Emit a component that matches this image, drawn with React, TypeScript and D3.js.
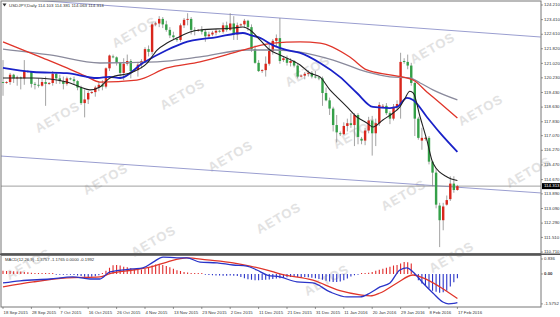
import React from 'react';
import * as d3 from 'd3';

// ---------- DATA ----------
const dateLabels = ['18 Sep 2015','28 Sep 2015','7 Oct 2015','16 Oct 2015','26 Oct 2015','4 Nov 2015','13 Nov 2015','23 Nov 2015','2 Dec 2015','11 Dec 2015','21 Dec 2015','31 Dec 2015','11 Jan 2016','20 Jan 2016','29 Jan 2016','8 Feb 2016','17 Feb 2016'];
const dateLabelBars = [0,8,16,24,32,40,48,56,64,72,80,88,96,104,112,120,128];

const opens = [120.00,119.95,120.00,120.40,120.20,120.25,120.20,120.60,120.55,119.90,119.85,119.80,120.00,119.90,119.95,120.45,120.20,120.05,119.90,120.20,120.15,120.05,119.70,118.85,119.05,119.40,119.45,119.70,119.85,119.75,120.75,121.40,121.35,121.05,120.50,121.00,121.15,120.60,120.65,120.95,121.15,121.80,121.65,123.15,123.20,123.45,123.15,122.85,122.55,122.35,122.30,123.10,123.40,123.45,122.85,122.80,122.85,122.75,122.50,122.60,122.70,122.80,122.75,123.10,122.85,123.20,122.60,123.10,123.15,123.35,123.00,121.80,121.05,120.60,120.65,121.00,121.70,122.25,122.40,121.20,121.30,121.05,121.15,120.90,120.30,120.35,120.45,120.50,120.30,120.25,120.20,119.40,119.00,118.55,117.65,117.20,117.15,117.60,117.75,117.65,118.20,116.90,116.80,117.35,117.90,117.20,117.75,118.70,118.70,118.30,118.00,118.65,118.80,121.15,121.10,120.90,119.95,118.00,116.80,116.90,116.95,115.65,115.05,113.25,112.45,113.30,113.60,114.45,114.103];
const highs = [121.20,120.05,120.50,120.45,120.35,120.30,121.20,120.65,120.60,120.00,120.20,120.20,120.30,120.00,120.60,120.55,120.40,120.30,120.30,120.25,120.30,120.10,119.80,119.60,119.50,119.50,119.80,120.00,120.10,120.80,121.50,121.50,121.40,121.10,121.30,121.50,121.25,120.70,121.10,121.25,121.90,122.00,123.25,123.30,123.60,123.55,123.35,123.00,122.75,122.45,123.20,123.50,123.76,123.55,123.00,122.90,123.05,122.85,122.75,122.80,122.90,122.85,123.25,123.30,123.76,123.60,123.25,123.20,123.45,123.40,123.15,122.00,121.20,120.70,121.40,122.10,122.35,122.60,123.50,121.40,121.45,121.30,121.20,121.00,120.40,120.55,120.65,120.60,120.60,120.30,120.30,119.70,119.15,118.65,118.20,117.30,117.80,118.00,118.30,118.30,118.30,117.00,117.50,118.10,118.15,118.00,118.90,118.80,118.85,118.40,118.80,119.00,121.60,121.30,121.50,121.05,120.00,118.10,117.50,117.00,117.05,115.70,115.30,113.40,113.40,113.80,114.85,114.85,114.381];
const lows = [119.25,119.90,119.85,119.95,119.80,119.60,119.85,120.50,119.70,119.60,119.70,119.75,118.70,119.85,119.80,119.90,119.90,119.60,119.80,120.10,119.90,119.55,118.75,118.07,118.80,119.35,119.20,119.50,119.55,119.65,120.60,121.30,120.90,120.30,120.10,120.90,120.20,120.55,120.30,120.75,121.05,121.40,121.50,123.05,123.00,122.95,122.75,122.40,122.30,122.20,122.20,122.95,123.10,122.60,122.55,122.75,122.60,122.20,122.35,122.50,122.55,122.70,122.65,122.75,122.80,122.30,122.30,123.00,122.95,122.80,121.65,121.00,120.55,120.50,120.30,120.90,121.50,121.95,121.00,121.10,120.90,120.85,120.80,120.20,120.25,120.15,120.30,120.20,120.20,120.10,118.70,118.95,118.20,117.30,116.70,117.05,117.10,117.30,117.50,116.50,116.60,116.60,116.55,117.20,115.98,116.50,117.60,118.60,118.20,117.70,117.90,118.50,118.00,121.00,120.70,119.80,117.05,116.85,116.30,116.80,115.50,114.30,113.10,110.98,111.90,113.25,113.50,113.95,114.063];
const closes = [119.95,120.00,120.40,120.20,120.25,120.20,120.60,120.55,119.90,119.85,119.80,120.00,119.90,119.95,120.45,120.20,120.05,119.90,120.20,120.15,120.05,119.70,118.85,119.05,119.40,119.45,119.70,119.85,119.75,120.75,121.45,121.35,121.05,120.50,121.00,121.15,120.60,120.65,120.95,121.15,121.80,121.65,123.15,123.20,123.45,123.15,122.85,122.55,122.45,122.30,123.10,123.40,123.45,122.85,122.80,122.85,122.75,122.50,122.60,122.70,122.80,122.75,123.10,122.85,123.20,122.60,123.10,123.15,123.35,123.00,121.80,121.05,120.60,120.65,121.00,121.70,122.25,122.40,121.15,121.30,121.05,121.15,120.90,120.30,120.35,120.45,120.50,120.30,120.25,120.20,119.40,119.00,118.55,117.65,117.25,117.15,117.60,117.75,117.65,118.20,117.00,116.80,117.35,117.90,117.20,117.75,118.75,118.70,118.30,118.00,118.65,118.80,121.10,121.10,120.90,119.95,118.00,116.95,116.95,116.95,115.65,115.05,113.30,112.45,113.20,113.55,114.45,114.10,114.313];

// moving averages, sampled [bar, price]
const maBlack = [[0,120.22],[8.5,120.22],[18,120.0],[21.7,119.73],[24.5,119.57],[27.3,119.73],[30.1,120.22],[36.6,120.55],[40.6,121.04],[43.4,121.75],[46.2,122.13],[49,122.41],[52.7,122.73],[55.5,122.84],[64.8,122.95],[67.6,123.01],[69.6,122.84],[72.4,122.3],[75.2,121.75],[78,121.48],[83.7,120.93],[86.5,120.49],[89.3,120.28],[92.1,119.57],[94.1,119.18],[96.9,118.64],[99.7,118.09],[102.5,117.76],[104.2,117.54],[107,117.93],[109.9,118.31],[111.8,118.64],[113.2,119.1],[114.6,119.5],[115.6,119.4],[117.5,118.09],[119.4,116.83],[121.1,115.58],[125.1,114.81],[128,114.62]];
const maBlue = [[0,120.77],[8.5,120.55],[18,120.49],[26.5,120.22],[30,120.28],[33,120.22],[39.4,121.04],[46.2,121.75],[50.7,122.13],[60.3,122.46],[67.6,122.68],[69.6,122.57],[72.4,122.41],[76,122.02],[80,121.75],[83.7,121.59],[89.3,121.04],[94.9,120.28],[99.7,119.4],[104.2,118.64],[109,118.58],[111,118.64],[113.8,119.13],[115.5,119.02],[119.4,118.09],[123.1,117.22],[128,116.18]];
const maRed = [[0,122.19],[11.3,121.31],[18,120.77],[23.7,120.28],[27.3,120.0],[37.7,120.11],[46.2,120.77],[55.5,121.1],[64.8,121.59],[69.6,121.86],[76,122.13],[83.7,122.19],[89.3,122.13],[97.7,121.37],[102.5,120.66],[109,120.39],[115.5,120.11],[119.4,119.46],[123.1,118.85],[128,118.03]];
const maGray = [[0,121.8],[13.2,121.48],[27.3,121.04],[43.4,121.1],[55.5,121.37],[68.7,121.75],[76.6,121.75],[83.7,121.64],[93,121.2],[102.5,120.55],[109,120.28],[114.6,120.22],[117.5,119.95],[121.1,119.57],[128,119.02]];

// trend channel endpoints [bar, price]
const channelUpper = [[-0.85,124.61],[151.5,122.46]];
const channelLower = [[-0.85,115.96],[151.5,113.94]];

const priceTicks = [124.21,123.41,122.61,121.82,121.02,120.23,119.43,118.63,117.83,117.07,116.27,115.47,114.67,113.89,113.09,112.29,111.51,110.71];
const lastPrice = 114.313;

// MACD
const macdMain = [[0,-0.43],[4.8,-0.33],[13.2,-0.24],[19.7,-0.14],[24.5,-0.24],[27.3,-0.24],[30.1,0.1],[36.6,0.24],[39.4,0.29],[42.3,0.57],[45.1,0.81],[49,0.77],[51.8,0.77],[55.5,0.57],[60.3,0.53],[64.8,0.43],[68.7,0.38],[71.5,0.19],[74.4,-0.05],[78,-0.14],[82.8,-0.38],[87.3,-0.43],[92.1,-0.86],[96.9,-1.1],[100.6,-1.1],[103.4,-0.91],[106.2,-0.62],[109,-0.43],[111.8,0.19],[113.8,0.29],[115.5,0.1],[118.3,-0.43],[121.1,-0.91],[123.9,-1.34],[125.5,-1.43],[127,-1.41],[128,-1.3757]];
const macdSignal = [[0,-0.62],[8.5,-0.38],[18,-0.19],[27.3,-0.14],[30.1,0.02],[36.6,0.19],[41.4,0.33],[46.2,0.57],[51.8,0.77],[57.5,0.67],[64.8,0.53],[69.6,0.38],[74.4,0.19],[78,0.0],[87.3,-0.3],[94.9,-0.8],[100.6,-1.0],[103.5,-1.05],[106.2,-0.91],[111,-0.43],[115.5,-0.05],[118.3,-0.19],[123.1,-0.62],[128,-1.1765]];
const macdHist = [0.15,0.14,0.14,0.13,0.12,0.12,0.1,0.08,0.06,
  0.04,0.03,0.02,0.02,0.01,0.0,-0.01,-0.02,-0.02,-0.03,-0.04,-0.05,
  -0.07,-0.1,-0.13,-0.14,-0.13,-0.11,-0.06,
  0.05,0.15,0.3,0.42,0.43,0.4,0.35,0.32,0.28,0.25,
  0.22,0.22,0.25,
  0.3,0.4,0.45,0.45,0.43,0.38,0.32,0.25,
  0.18,0.14,0.1,0.07,0.05,0.03,0.02,0.01,
  -0.03,-0.05,-0.06,-0.07,-0.07,-0.08,-0.08,-0.07,-0.08,
  -0.1,-0.15,-0.2,-0.25,-0.28,-0.3,-0.3,-0.29,-0.28,-0.26,-0.24,-0.22,-0.2,-0.18,
  -0.16,-0.15,-0.14,-0.14,-0.14,-0.15,-0.16,-0.18,-0.2,
  -0.24,-0.28,-0.32,-0.36,-0.38,-0.38,-0.36,-0.3,-0.22,
  -0.12,-0.06,-0.03,0.01,0.03,
  0.06,0.1,0.15,0.2,0.25,0.3,0.35,0.4,0.43,
  0.5,0.57,0.56,0.5,
  -0.1,-0.3,-0.45,-0.55,-0.7,-0.8,-0.85,-0.9,-0.88,-0.8,-0.6,-0.4,-0.2];
const macdTicks = [0.836, 0.0, -1.5752];
const macdTickLabels = ['0.836', '0.00', '-1.5752'];

const headerText = 'USDJPY,Daily  114.103 114.381 114.063 114.313';
const macdText = 'MACD(12,26,9) -1.3757 -1.1765 0.0000 -0.1992';

// ---------- COMPONENT ----------
const RED = '#d9261c';
const GREEN = '#34a048';
const FONT = 'Liberation Sans, Arial, sans-serif';

export default function App() {
  const plotRight = 541;
  const x = d3.scaleLinear().domain([0, 128]).range([3, 3 + 128 * 3.55]);
  const y = d3.scaleLinear().domain([110.71, 124.21]).range([252.05, 5]);
  const ym = d3.scaleLinear().domain([-1.5752, 0.836]).range([306.9, 256.5]);

  const lineP = d3.line<number[]>().x(d => x(d[0])).y(d => y(d[1])).curve(d3.curveMonotoneX);
  const lineM = d3.line<number[]>().x(d => x(d[0])).y(d => ym(d[1])).curve(d3.curveMonotoneX);
  const straight = d3.line<number[]>().x(d => x(d[0])).y(d => y(d[1]));

  // watermark lattice (only fully visible stamps)
  const marks: [number, number][] = [];
  for (let a = -6; a <= 8; a++) {
    for (let b = -5; b <= 8; b++) {
      const cx = 135 + a * 48 + b * 125;
      const cy = 33 + a * 62 - b * 23;
      if (cx - 24 > 0 && cx + 24 < 560 && cy - 17 > 0 && cy + 17 < 317) marks.push([cx, cy]);
    }
  }

  return (
    <svg width={560} height={317} style={{ position: 'absolute', left: 0, top: 0, background: '#fff' }} fontFamily={FONT}>
      <defs>
        <clipPath id="mainClip"><rect x={1} y={1} width={plotRight - 1} height={252.5} /></clipPath>
        <clipPath id="macdClip"><rect x={1} y={255.5} width={plotRight - 1} height={51.5} /></clipPath>
      </defs>
      <rect x={0} y={0} width={560} height={317} fill="#fff" />
      {/* watermark */}
      <g fill="#e2e2e2" fontWeight="bold" fontSize={13} textAnchor="middle">
        {marks.map(([cx, cy], i) => (
          <text key={i} x={cx} y={cy} transform={`rotate(-30 ${cx} ${cy})`} dominantBaseline="middle" letterSpacing={1}>AETOS</text>
        ))}
      </g>

      {/* main panel */}
      <g clipPath="url(#mainClip)">
        <path d={straight(channelUpper) || ''} stroke="#9a9ed0" strokeWidth={1} fill="none" />
        <path d={straight(channelLower) || ''} stroke="#9a9ed0" strokeWidth={1} fill="none" />
        <line x1={1} x2={plotRight} y1={y(lastPrice)} y2={y(lastPrice)} stroke="#888" strokeWidth={0.8} />
        {opens.map((o, i) => {
          const c = closes[i];
          const up = c >= o;
          const yo = y(o), yc = y(c);
          const top = Math.min(yo, yc);
          const h = Math.max(0.8, Math.abs(yo - yc));
          return (
            <g key={i}>
              <line x1={x(i)} x2={x(i)} y1={y(highs[i])} y2={y(lows[i])} stroke="#8c8c8c" strokeWidth={0.8} />
              <rect x={x(i) - 1.2} y={top} width={2.4} height={h} fill={up ? RED : GREEN} />
            </g>
          );
        })}
        <path d={lineP(maGray) || ''} stroke="#8a8a9c" strokeWidth={1.3} fill="none" />
        <path d={lineP(maRed) || ''} stroke="#e0352a" strokeWidth={1.3} fill="none" />
        <path d={lineP(maBlue) || ''} stroke="#1a22c8" strokeWidth={1.8} fill="none" />
        <path d={lineP(maBlack) || ''} stroke="#222" strokeWidth={1.1} fill="none" />
      </g>
      {/* header */}
      <path d="M2.5,3.6 L6.5,3.6 L4.5,6.6 Z" fill="#333" />
      <text x={9} y={6.8} fontSize={4.4} fill="#333">{headerText}</text>

      {/* MACD panel */}
      <g clipPath="url(#macdClip)">
        {macdHist.map((v, i) => {
          const y0 = ym(0);
          let y1 = ym(v);
          if (Math.abs(y1 - y0) < 0.9) y1 = y0 - (v >= 0 ? 0.9 : -0.9);
          return <line key={i} x1={x(i)} x2={x(i)} y1={y0} y2={y1} stroke={v >= 0 ? '#e02a2a' : '#2a34c8'} strokeWidth={1.1} />;
        })}
        <path d={lineM(macdSignal) || ''} stroke="#e0352a" strokeWidth={1.3} fill="none" />
        <path d={lineM(macdMain) || ''} stroke="#2a34c8" strokeWidth={1.3} fill="none" />
      </g>
      <text x={5} y={260.5} fontSize={4.2} fill="#333">{macdText}</text>

      {/* frames */}
      <rect x={1} y={1} width={plotRight - 1} height={252.5} fill="none" stroke="#777" strokeWidth={1} />
      <line x1={0} x2={560} y1={254.2} y2={254.2} stroke="#555" strokeWidth={1.6} />
      <rect x={1} y={255.5} width={plotRight - 1} height={51.5} fill="none" stroke="#777" strokeWidth={1} />

      {/* price axis */}
      <g fontSize={4.4} fill="#333">
        {priceTicks.map((p, i) => (
          <g key={i}>
            <line x1={plotRight} x2={plotRight + 2} y1={y(p)} y2={y(p)} stroke="#555" strokeWidth={0.6} />
            <text x={plotRight + 3} y={y(p)} dominantBaseline="middle">{p.toFixed(3)}</text>
          </g>
        ))}
      </g>
      <rect x={plotRight + 1} y={y(lastPrice) - 3} width={18} height={6} fill="#000" />
      <text x={plotRight + 3} y={y(lastPrice)} dominantBaseline="middle" fontSize={4.4} fill="#fff">{lastPrice.toFixed(3)}</text>

      {/* MACD axis */}
      <g fontSize={4.4} fill="#333">
        {macdTicks.map((v, i) => {
          const yy = i === 0 ? ym(v) + 2.5 : i === 2 ? ym(v) - 3 : ym(v);
          return (
            <g key={i}>
              <line x1={plotRight} x2={plotRight + 2} y1={yy} y2={yy} stroke="#555" strokeWidth={0.6} />
              <text x={plotRight + 3} y={yy} dominantBaseline="middle" fontWeight={i === 1 ? 'bold' : 'normal'}>{macdTickLabels[i]}</text>
            </g>
          );
        })}
      </g>

      {/* date axis */}
      <g fontSize={4.3} fill="#333">
        {dateLabels.map((lab, i) => (
          <g key={i}>
            <line x1={x(dateLabelBars[i])} x2={x(dateLabelBars[i])} y1={307} y2={309} stroke="#555" strokeWidth={0.6} />
            <text x={x(dateLabelBars[i]) + 0.5} y={313} dominantBaseline="middle">{lab}</text>
          </g>
        ))}
      </g>
    </svg>
  );
}
